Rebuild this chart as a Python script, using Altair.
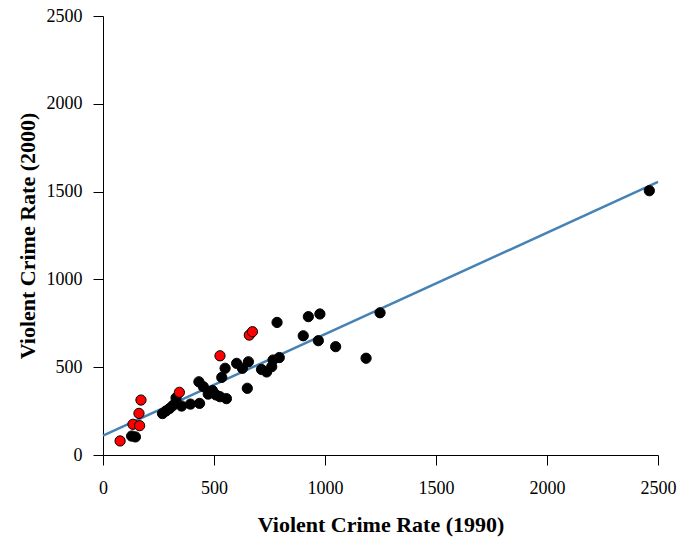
import altair as alt
import pandas as pd

# Violent crime rate per state: 1990 (x) vs 2000 (y)
black_x = [129, 146, 268, 284, 300, 315, 329, 354, 394, 435, 432, 452, 474, 493, 509,
           527, 556, 535, 550, 602, 628, 655, 650, 714, 737, 760, 766, 794, 784, 902,
           925, 977, 970, 1048, 1185, 1248, 2461]
black_y = [108, 103, 236, 251, 265, 282, 325, 279, 290, 294, 417, 389, 347, 367, 342,
           332, 321, 442, 494, 522, 494, 531, 380, 487, 473, 503, 541, 555, 755, 679,
           788, 803, 651, 617, 551, 810, 1505]
red_x = [77, 135, 165, 162, 171, 344, 527, 659, 673]
red_y = [80, 175, 167, 237, 313, 357, 565, 683, 702]
tick_values = [0, 500, 1000, 1500, 2000, 2500]

df = pd.DataFrame({
    "x": black_x + red_x,
    "y": black_y + red_y,
    "group": ["black"] * len(black_x) + ["red"] * len(red_x),
})

xs = alt.Scale(domain=[0, 2500], nice=False, zero=False)
ys = alt.Scale(domain=[0, 2500], nice=False, zero=False)

common = dict(values=tick_values, format="d", labelFlush=False,
              labelFont="Liberation Serif", labelFontSize=18,
              labelColor="black", titleFont="Liberation Serif", titleFontSize=22,
              titleFontWeight="bold", titleColor="black")
x_axis = alt.Axis(title="Violent Crime Rate (1990)", labelPadding=14, titlePadding=17, **common)
y_axis = alt.Axis(title="Violent Crime Rate (2000)", labelPadding=11, titlePadding=7, **common)

base = alt.Chart(df)

line = base.transform_regression("x", "y", extent=[0, 2500]).mark_line(
    color="#4682b4", strokeWidth=2.5
).encode(
    x=alt.X("x:Q", scale=xs, axis=x_axis),
    y=alt.Y("y:Q", scale=ys, axis=y_axis),
)

points = base.mark_circle(size=105, opacity=1, stroke="black", strokeWidth=1).encode(
    x=alt.X("x:Q", scale=xs, axis=x_axis),
    y=alt.Y("y:Q", scale=ys, axis=y_axis),
    fill=alt.Fill("group:N", scale=alt.Scale(domain=["black", "red"], range=["black", "#ff0000"]),
                  legend=None),
    order=alt.Order("group:N"),
)

chart = alt.layer(line, points).properties(
    width=555, height=439,
    autosize=alt.AutoSizeParams(type="none"),
    padding={"left": 103, "top": 16, "right": 21, "bottom": 84},
    background="white",
).configure_view(stroke=None).configure_axis(
    grid=False,
    domainColor="black",
    tickColor="black",
    tickSize=10,
    domainWidth=1,
    tickWidth=1,
)

chart.save("out.html", embed_options={"renderer": "svg", "actions": False})
